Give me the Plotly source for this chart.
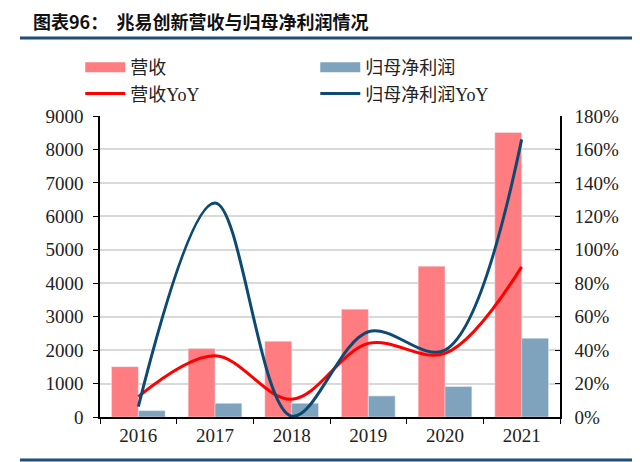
import plotly.graph_objects as go

years = ['2016', '2017', '2018', '2019', '2020', '2021']
revenue = [1505, 2045, 2265, 3225, 4510, 8510]
net_profit = [190, 410, 410, 630, 910, 2355]
revenue_yoy = [12.2, 36.6, 10.6, 44.0, 38.0, 89.8]
profit_yoy = [6.2, 128.0, 0.5, 51.0, 40.0, 166.0]

c_rev = '#FF7C80'
c_net = '#7FA3BD'
c_rev_line = '#FF0000'
c_net_line = '#0D4A73'
serif = 'Liberation Serif, Noto Sans CJK SC'

fig = go.Figure()

# bars, legend drawn by dummy line traces below so swatches are wide
fig.add_trace(go.Bar(x=years, y=revenue, marker=dict(color=c_rev), showlegend=False))
fig.add_trace(go.Bar(x=years, y=net_profit, marker=dict(color=c_net), showlegend=False))

fig.add_trace(go.Scatter(x=[None], y=[None], mode='lines', line=dict(color=c_rev, width=11),
                         name='营收', legend='legend'))
fig.add_trace(go.Scatter(x=[None], y=[None], mode='lines', line=dict(color=c_net, width=11),
                         name='归母净利润', legend='legend2'))

fig.add_trace(go.Scatter(x=years, y=revenue_yoy, yaxis='y2', mode='lines',
                         line=dict(color=c_rev_line, width=3, shape='spline'),
                         name='营收YoY', legend='legend'))
fig.add_trace(go.Scatter(x=years, y=profit_yoy, yaxis='y2', mode='lines',
                         line=dict(color=c_net_line, width=3, shape='spline'),
                         name='归母净利润YoY', legend='legend2'))

leg = dict(orientation='v', y=1.2226, yanchor='top', xanchor='left', traceorder='normal',
           font=dict(family=serif, size=18, color='#222222'), bgcolor='rgba(0,0,0,0)',
           itemwidth=40, tracegroupgap=0)

fig.update_layout(
    width=632, height=454,
    margin=dict(l=92, r=80, t=108, b=45),
    paper_bgcolor='white', plot_bgcolor='white',
    barmode='group', bargap=0.3, bargroupgap=0,
    font=dict(family=serif, size=19, color='#222222'),
    title=dict(text='<b>图表96：  兆易创新营收与归母净利润情况</b>',
               x=25/632, xanchor='left', y=1-15/454, yanchor='middle',
               font=dict(family='Noto Sans CJK SC', size=18, color='#111111')),
    legend=dict(leg, x=-0.043),
    legend2=dict(leg, x=0.468),
    xaxis=dict(type='category', showline=True, linecolor='black', linewidth=1.5,
               ticks='outside', tickson='boundaries', ticklen=5, tickcolor='black',
               tickfont=dict(family='Liberation Serif', size=19), showgrid=False),
    yaxis=dict(range=[0, 9000], dtick=1000, showline=True, linecolor='black', linewidth=1.5,
               ticks='outside', ticklen=5, tickcolor='black', showgrid=True,
               gridcolor='#D9D9D9', gridwidth=1.5, zeroline=False, ticklabelstandoff=6,
               tickfont=dict(family='Liberation Serif', size=19)),
    yaxis2=dict(range=[0, 180], dtick=20, ticksuffix='%', overlaying='y', side='right',
                showline=True, linecolor='black', linewidth=1.5, ticks='inside', ticklen=5,
                tickcolor='black', showgrid=False, zeroline=False, ticklabelstandoff=9,
                tickfont=dict(family='Liberation Serif', size=19)),
    shapes=[
        dict(type='line', xref='paper', yref='paper', x0=-0.174, x1=1.2,
             y0=1.259, y1=1.259, line=dict(color='#1F4E79', width=3)),
        dict(type='line', xref='paper', yref='paper', x0=-0.174, x1=1.2,
             y0=-0.143, y1=-0.143, line=dict(color='#1F4E79', width=3)),
    ],
)

fig.write_html('out.html')
